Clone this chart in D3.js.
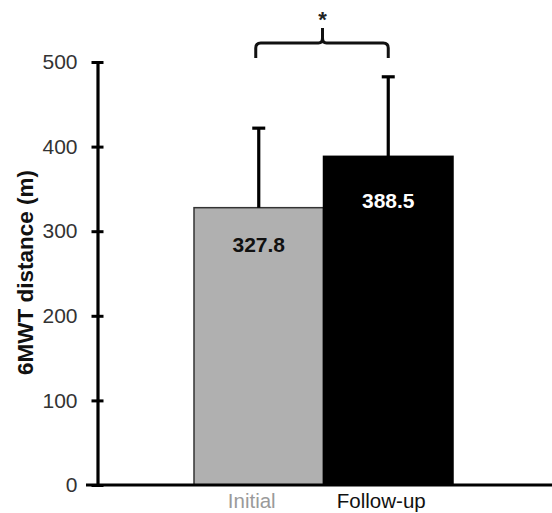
<!DOCTYPE html>
<html>
<head>
<meta charset="utf-8">
<script src="https://cdn.jsdelivr.net/npm/d3@7"></script>
<style>
  html, body { margin: 0; padding: 0; background: #fff; }
  svg { display: block; font-family: "Liberation Sans", Arial, sans-serif; }
</style>
</head>
<body>
<svg id="chart" width="552" height="513"></svg>
<script>
const categories = ["Initial", "Follow-up"];
const means = [327.8, 388.5];
const sds = [94, 94];
const valueLabels = ["327.8", "388.5"];
const yTicks = [0, 100, 200, 300, 400, 500];
const yTitle = "6MWT distance (m)";
const significance = "*";

const barFill = ["#b0b0b0", "#000000"];
const labelFill = ["#111111", "#ffffff"];
const catColor = ["#9a9a9a", "#111111"];
const labelDy = [44, 52];

const svg = d3.select("#chart");

const y = d3.scaleLinear().domain([0, 500]).range([485, 62]);
const x = d3.scaleBand().domain(categories).range([194, 453]).padding(0);
const axisX = 97.5;

// bars
svg.selectAll("rect.bar").data(categories).join("rect")
  .attr("class", "bar")
  .attr("x", d => x(d))
  .attr("width", x.bandwidth())
  .attr("y", (d, i) => y(means[i]))
  .attr("height", (d, i) => y(0) - y(means[i]))
  .attr("fill", (d, i) => barFill[i])
  .attr("stroke", (d, i) => i === 0 ? "#333" : "#000")
  .attr("stroke-width", 1.5);

// error bars
const eb = svg.append("g").attr("stroke", "#000").attr("stroke-width", 3.2);
categories.forEach((c, i) => {
  const cx = x(c) + x.bandwidth() / 2;
  eb.append("line").attr("x1", cx).attr("x2", cx)
    .attr("y1", y(means[i])).attr("y2", y(means[i] + sds[i]));
  eb.append("line").attr("x1", cx - 6.5).attr("x2", cx + 6.5)
    .attr("y1", y(means[i] + sds[i])).attr("y2", y(means[i] + sds[i]));
});

// value labels
svg.selectAll("text.val").data(categories).join("text")
  .attr("class", "val")
  .attr("x", d => x(d) + x.bandwidth() / 2)
  .attr("y", (d, i) => y(means[i]) + labelDy[i])
  .attr("text-anchor", "middle")
  .attr("font-size", 21)
  .attr("font-weight", "bold")
  .attr("fill", (d, i) => labelFill[i])
  .text((d, i) => valueLabels[i]);

// y axis
const yAxis = d3.axisLeft(y).tickValues(yTicks).tickSize(6).tickPadding(14).tickSizeOuter(0);
const ga = svg.append("g").attr("transform", `translate(${axisX},0)`).call(yAxis);
ga.select(".domain").attr("stroke", "#000").attr("stroke-width", 3.2);
ga.selectAll(".tick line").attr("x1", -6).attr("x2", 6).attr("stroke", "#000").attr("stroke-width", 3);
ga.selectAll(".tick text").attr("font-size", 21).attr("fill", "#333")
  .attr("font-family", "Liberation Sans, Arial, sans-serif");

// x axis baseline
svg.append("line").attr("x1", 86).attr("x2", 552)
  .attr("y1", y(0)).attr("y2", y(0))
  .attr("stroke", "#000").attr("stroke-width", 3.2);

// category labels
svg.selectAll("text.cat").data(categories).join("text")
  .attr("class", "cat")
  .attr("x", d => x(d) + x.bandwidth() / 2 - 7)
  .attr("y", 508)
  .attr("text-anchor", "middle")
  .attr("font-size", 20.5)
  .attr("fill", (d, i) => catColor[i])
  .text(d => d);

// y title
svg.append("text")
  .attr("transform", `translate(33,272.5) rotate(-90)`)
  .attr("text-anchor", "middle")
  .attr("font-size", 22.5)
  .attr("font-weight", "bold")
  .attr("fill", "#111")
  .text(yTitle);

// significance brace
const x1 = x(categories[0]) + x.bandwidth() / 2 - 3;
const x2 = x(categories[1]) + x.bandwidth() / 2;
const xm = (x(categories[0]) + x.bandwidth() + x(categories[1])) / 2 - 1;
const by = y(500) - 19, bEnd = by + 15, r = 5;
svg.append("path")
  .attr("d", `M${x1},${bEnd} L${x1},${by + r} Q${x1},${by} ${x1 + r},${by}
              L${xm - 4},${by} Q${xm},${by} ${xm},${by - 5} L${xm},${by - 15}
              M${xm},${by - 5} Q${xm},${by} ${xm + 4},${by}
              L${x2 - r},${by} Q${x2},${by} ${x2},${by + r} L${x2},${bEnd}`)
  .attr("fill", "none").attr("stroke", "#111").attr("stroke-width", 3);
svg.append("text")
  .attr("x", xm).attr("y", 27)
  .attr("text-anchor", "middle")
  .attr("font-size", 22)
  .attr("font-weight", "bold")
  .attr("fill", "#222")
  .text(significance);
</script>
</body>
</html>
